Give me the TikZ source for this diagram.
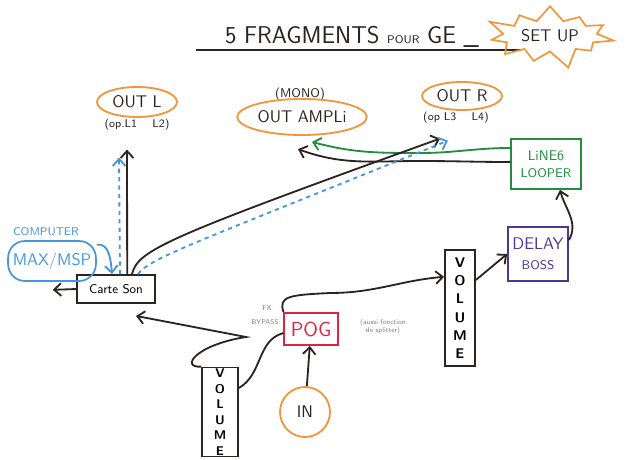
\documentclass[tikz,border=0pt]{standalone}
\usepackage{tikz}
\usetikzlibrary{shapes.geometric}
\usetikzlibrary{shapes.symbols}
\usetikzlibrary{arrows.meta}
\definecolor{ink}{RGB}{45,35,35}
\definecolor{orng}{RGB}{240,150,60}
\definecolor{grn}{RGB}{35,140,65}
\definecolor{purp}{RGB}{75,55,150}
\definecolor{rd}{RGB}{220,35,65}
\definecolor{blu}{RGB}{70,150,220}
\tikzset{%
    box/.style={draw=ink,line width=1.3pt,font=\sffamily,inner sep=2pt,align=center},
    outlet/.style={ellipse,draw=orng,line width=1.3pt,font=\sffamily\large,inner sep=1pt,text=ink},
    note/.style={font=\sffamily\footnotesize,text=ink},
    tiny/.style={font=\sffamily\fontsize{5}{6}\selectfont,text=gray,align=center},
    arr/.style={draw=ink,line width=1.3pt,-{Straight Barb[length=5pt,width=9pt]}},
    lnk/.style={draw=ink,line width=1.3pt}
}
\begin{document}
\begin{tikzpicture}[x=0.025cm,y=-0.025cm]
        \useasboundingbox[fill=white] (0,0) rectangle (627,460);

        % title
        \node[font=\sffamily\LARGE,text=ink] (title) at (352,37) {5 FRAGMENTS {\footnotesize POUR} GE \_};
        \draw[lnk] (196,50) -- (520,50);
        \node[starburst,starburst points=11,starburst point height=0.5cm,draw=orng,line width=1.2pt,
              minimum width=2.7cm,minimum height=1.6cm,font=\sffamily\large,text=ink] (setup) at (550,36) {SET UP};

        % outputs
        \node[outlet,minimum width=2cm,minimum height=0.75cm] (outl) at (137,102) {OUT L};
        \node[note] (outlnote) at (137,125) {(op.L1 \quad L2)};
        \node[note,font=\sffamily\small] (mono) at (300,94) {(MONO)};
        \node[outlet,minimum width=3cm,minimum height=0.9cm] (outampli) at (302,117) {OUT AMPLi};
        \node[outlet,minimum width=2cm,minimum height=0.7cm] (outr) at (462,96) {OUT R};
        \node[note] (outrnote) at (456,118) {(op L3 \quad L4)};

        % effects
        \node[box,draw=grn,text=grn,minimum width=1.75cm,minimum height=1.25cm] (looper) at (546,164) {LiNE6\\\small LOOPER};
        \node[box,draw=purp,text=purp,minimum width=1.5cm,minimum height=1.35cm,font=\sffamily\large] (delay) at (538,254) {DELAY\\\small BOSS};
        \node[box,minimum width=0.75cm,minimum height=2.9cm,font=\sffamily\bfseries,inner sep=1pt] (volr) at (460,308) {V\\[1pt]O\\[1pt]L\\[1pt]U\\[1pt]M\\[1pt]E};
        \node[box,draw=rd,text=rd,minimum width=1.33cm,minimum height=0.8cm,font=\sffamily\Large] (pog) at (311,329) {POG};
        \node[tiny] (pognote) at (383,327) {(aussi fonction\\ de splitter)};
        \node[tiny] (fx) at (267,308) {FX};
        \node[tiny] (bypass) at (265,322) {BYPASS};
        \node[circle,draw=orng,line width=1.3pt,minimum size=1.25cm,font=\sffamily\large,text=ink] (in) at (305,412) {IN};
        \node[box,minimum width=0.9cm,minimum height=2.1cm,font=\sffamily\small\bfseries,inner sep=1pt] (voll) at (220,412) {V\\O\\L\\U\\M\\E};

        % sound card and computer
        \node[box,minimum width=1.93cm,minimum height=0.7cm,font=\sffamily\small] (carte) at (116,289) {Carte Son};
        \node[draw=blu,line width=1.2pt,rounded corners=12pt,minimum width=2.1cm,minimum height=1cm,
              font=\sffamily\large,text=blu] (maxmsp) at (52,261) {MAX/MSP};
        \node[font=\sffamily\footnotesize,text=blu] (computer) at (46,232) {COMPUTER};
        \coordinate (bp) at (246,337);

        \draw[arr] (in) -- (pog);
        \draw[arr] (pog.north west) .. controls (278,296) and (290,295) .. (330,293) to[out=0,in=185] ([yshift=0.78cm]volr.west);
        \draw[arr] ([yshift=0.7cm]volr.east) -- (delay.west);
        \draw[arr] ([yshift=0.35cm]delay.east) to[out=60,in=-75] ([xshift=0.35cm]looper.south);
        \draw[arr] ([yshift=0.05cm]looper.west) to[out=180,in=0] (420,161) to[out=180,in=-20] ([xshift=-0.1cm,yshift=-0.33cm]outampli.south);
        \draw[arr,draw=grn] ([yshift=0.4cm]looper.west) to[out=180,in=0] (420,153) to[out=180,in=-15] ([xshift=0.25cm,yshift=-0.15cm]outampli.south);
        \draw[arr] ([xshift=0.28cm]carte.north) -- ([xshift=-0.25cm,yshift=-0.35cm]outlnote.south);
        \draw[arr,draw=blu,dashed] ([xshift=0.1cm]carte.north) -- ([xshift=-0.45cm,yshift=-0.55cm]outlnote.south);
        \draw[arr] ([xshift=0.4cm]carte.north) .. controls (138,250) and (165,238) .. ([xshift=-0.4cm,yshift=-0.25cm]outrnote.south);
        \draw[arr,draw=blu,dashed] ([xshift=0.55cm]carte.north) .. controls (150,258) and (190,245) .. ([xshift=-0.2cm,yshift=-0.3cm]outrnote.south);
        \draw[arr] (carte.west) -- ([xshift=-1.1cm,yshift=-0.2cm]maxmsp.south east);
        \draw[arr,draw=blu] (maxmsp.20) to[out=10,in=95] ([xshift=-0.1cm]carte.north);
        \draw[arr] (voll.north west) .. controls (180,368) and (195,345) .. (bp) -- ([xshift=0.5cm,yshift=-0.3cm]carte.south);
        \draw[lnk] ([yshift=-0.1cm]pog.west) to[out=195,in=30] ([yshift=0.6cm]voll.east);
\end{tikzpicture}
\end{document}
